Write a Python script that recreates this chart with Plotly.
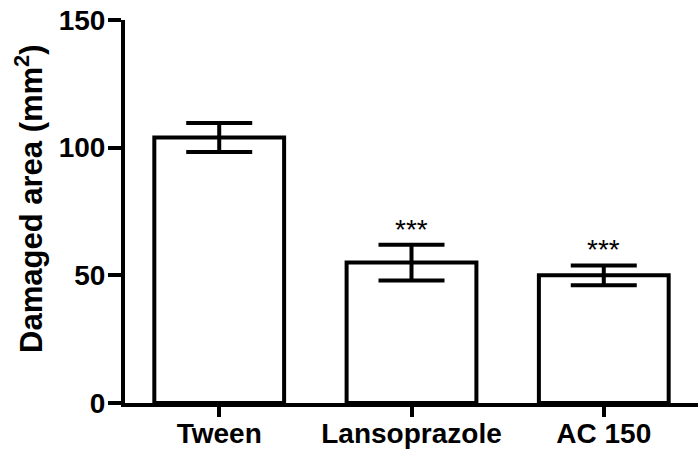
import plotly.graph_objects as go

# Gastric lesion area per treatment group (mean ± SEM)
groups = ["Tween", "Lansoprazole", "AC 150"]
damaged_area = [104.0, 55.0, 50.0]
sem = [5.7, 7.0, 3.9]
significance = ["", "***", "***"]

FONT = "Liberation Sans, Arial, sans-serif"

fig = go.Figure()
fig.add_trace(go.Bar(
    x=groups,
    y=damaged_area,
    width=0.675,
    marker=dict(color="white", line=dict(color="black", width=4)),
    error_y=dict(type="data", array=sem, visible=True,
                 color="black", thickness=4, width=33),
    showlegend=False,
))

# significance stars above each error bar
for g, v, e, s in zip(groups, damaged_area, sem, significance):
    if s:
        fig.add_annotation(x=g, y=v + e, xref="x", yref="y", text=s,
                           showarrow=False, yanchor="bottom", yshift=-2,
                           font=dict(family=FONT, size=28, color="black"))

# y-axis title, placed left of the tick labels
fig.add_annotation(
    text="<b>Damaged area (mm<sup>2</sup>)</b>",
    xref="paper", yref="paper", x=-0.128, y=0.532,
    xanchor="right", yanchor="middle", textangle=-90, showarrow=False,
    font=dict(family=FONT, size=31, color="black"),
)

fig.update_layout(
    width=698, height=449,
    margin=dict(l=125, r=0, t=20, b=46, autoexpand=False),
    paper_bgcolor="white", plot_bgcolor="white",
    font=dict(family=FONT, color="black"),
    xaxis=dict(
        range=[-0.49, 2.49], automargin=False,
        showline=True, linecolor="black", linewidth=4,
        ticks="outside", ticklen=10, tickwidth=4, tickcolor="black",
        ticklabelstandoff=-8,
        tickfont=dict(family=FONT, size=28, color="black", weight="bold"),
        showgrid=False, zeroline=False,
    ),
    yaxis=dict(
        range=[0, 150], tickvals=[0, 50, 100, 150], automargin=False,
        showline=True, linecolor="black", linewidth=4,
        ticks="outside", ticklen=13, tickwidth=4, tickcolor="black",
        ticklabelstandoff=-3,
        tickfont=dict(family=FONT, size=28, color="black", weight="bold"),
        showgrid=False, zeroline=False,
    ),
)

fig.write_html("out.html")
